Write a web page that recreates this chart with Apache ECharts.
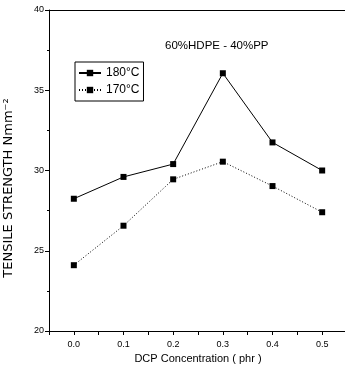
<!DOCTYPE html>
<html><head><meta charset="utf-8">
<script src="https://cdn.jsdelivr.net/npm/echarts@6/dist/echarts.min.js"></script>
<style>html,body{margin:0;padding:0;background:#fff}#c{width:345px;height:384px}</style>
</head><body><div id="c"></div>
<script>
const xValues = [0.0, 0.1, 0.2, 0.3, 0.4, 0.5];
const s180 = [28.24, 29.6, 30.4, 36.06, 31.75, 30.0];
const s170 = [24.1, 26.56, 29.45, 30.55, 29.03, 27.4];
const seriesNames = ['180°C', '170°C'];
const titleText = '60%HDPE - 40%PP';
const xTitle = 'DCP Concentration ( phr )';
const yTitle = 'TENSILE STRENGTH Nmm⁻²';

const font = 'Liberation Sans';
const chart = echarts.init(document.getElementById('c'));
const pairs = a => xValues.map((x, i) => [x, a[i]]);
chart.setOption({
  animation: false,
  textStyle: {fontFamily: font, color: '#000'},
  title: {text: titleText, left: 160, top: 35,
    textStyle: {fontSize: 11.5, fontWeight: 'normal', color: '#000', fontFamily: font}},
  grid: {left: 49, top: 10, width: 298, height: 321, show: false, outerBoundsMode: 'none', containLabel: false},
  graphic: [{type: 'text', x: 9, y: 188, rotation: Math.PI / 2,
    style: {text: yTitle, fill: '#000', font: '13px "DejaVu Sans"', align: 'center', verticalAlign: 'middle'}}],
  legend: {left: 75, top: 62, orient: 'vertical', itemGap: 5, itemWidth: 22, itemHeight: 8,
    padding: [5, 4, 5, 3], borderColor: '#000', borderWidth: 1,
    textStyle: {fontSize: 12, color: '#000', fontFamily: font},
    data: seriesNames},
  xAxis: [{type: 'value', min: -0.05, max: 0.55, interval: 0.05,
    name: xTitle, nameLocation: 'middle', nameGap: 20,
    nameTextStyle: {fontSize: 11, color: '#000', fontFamily: font},
    axisLine: {onZero: false, lineStyle: {color: '#000', width: 1}},
    axisTick: {show: true, length: 4, lineStyle: {color: '#000'}},
    splitLine: {show: false},
    axisLabel: {fontSize: 9, color: '#000', margin: 9,
      formatter: v => { const k = Math.round(v * 100); return (k % 10 === 0 && k >= 0) ? (k / 100).toFixed(1) : ''; }}},
    {type: 'value', position: 'top', min: -0.05, max: 0.55, interval: 0.05,
    axisLine: {onZero: false, lineStyle: {color: '#000', width: 1}},
    axisTick: {show: false}, axisLabel: {show: false}, splitLine: {show: false}}],
  yAxis: {type: 'value', min: 20, max: 40, interval: 5,
    axisLine: {onZero: false, lineStyle: {color: '#000', width: 1}},
    axisTick: {show: true, length: 4, lineStyle: {color: '#000'}},
    minorTick: {show: true, splitNumber: 2, length: 2, lineStyle: {color: '#000'}},
    splitLine: {show: false},
    axisLabel: {fontSize: 9, color: '#000', margin: 5}},
  series: [
    {name: seriesNames[0], type: 'line', data: pairs(s180), symbol: 'rect', symbolSize: 6,
      itemStyle: {color: '#000'}, lineStyle: {color: '#000', width: 1, type: 'solid'}},
    {name: seriesNames[1], type: 'line', data: pairs(s170), symbol: 'rect', symbolSize: 6,
      itemStyle: {color: '#000'}, lineStyle: {color: '#000', width: 1, type: [1, 2]}}
  ]
});
</script></body></html>
